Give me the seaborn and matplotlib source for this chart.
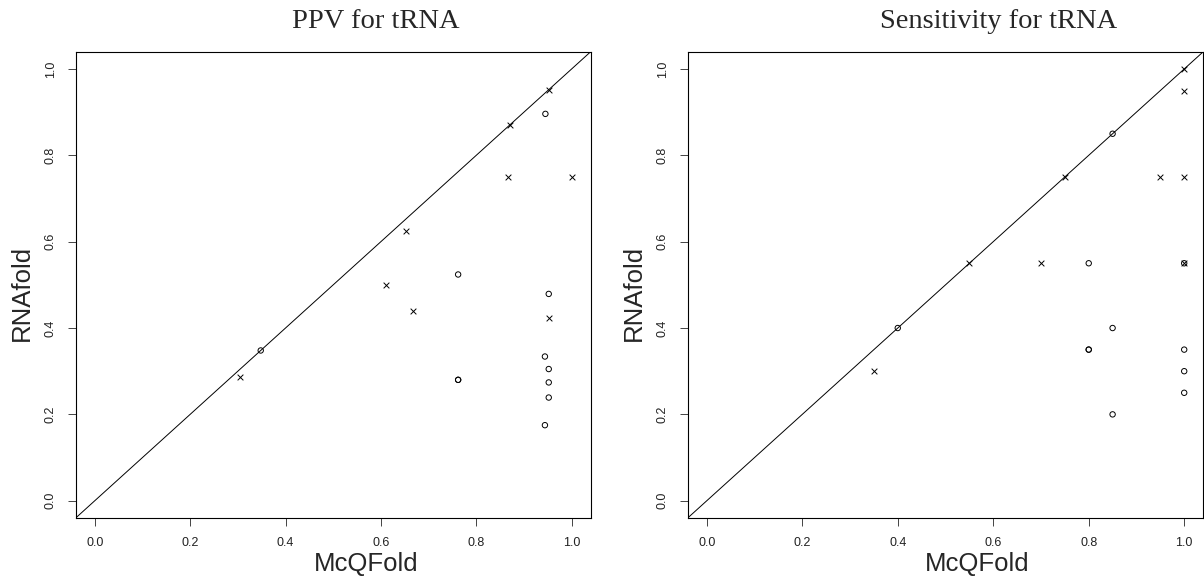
import matplotlib
matplotlib.use("Agg")
import matplotlib.pyplot as plt
import seaborn as sns
import pandas as pd

# ---- data: PPV panel ----
ppv_cross_x = [0.304, 0.610, 0.652, 0.667, 0.867, 0.870, 0.952, 1.000, 0.952]
ppv_cross_y = [0.286, 0.500, 0.625, 0.440, 0.750, 0.870, 0.952, 0.750, 0.423]
ppv_circ_x = [0.348, 0.762, 0.762, 0.762, 0.945, 0.952, 0.944, 0.952, 0.952, 0.952, 0.944]
ppv_circ_y = [0.348, 0.524, 0.280, 0.280, 0.896, 0.479, 0.334, 0.305, 0.274, 0.239, 0.175]

# ---- data: Sensitivity panel ----
sen_cross_x = [1.00, 1.00, 0.75, 0.95, 1.00, 0.55, 0.70, 1.00, 0.35]
sen_cross_y = [1.00, 0.95, 0.75, 0.75, 0.75, 0.55, 0.55, 0.55, 0.30]
sen_circ_x = [0.85, 0.40, 0.80, 1.00, 0.85, 0.80, 0.80, 1.00, 1.00, 1.00, 0.85]
sen_circ_y = [0.85, 0.40, 0.55, 0.55, 0.40, 0.35, 0.35, 0.35, 0.30, 0.25, 0.20]

titles = ["PPV for tRNA", "Sensitivity for tRNA"]
xlabel = "McQFold"
ylabel = "RNAfold"
ticks = [0.0, 0.2, 0.4, 0.6, 0.8, 1.0]
tick_labels = ["0.0", "0.2", "0.4", "0.6", "0.8", "1.0"]

sns.set_style("white")
plt.rcParams["font.family"] = ["Liberation Sans", "DejaVu Sans"]

W, H = 1204, 582
fig = plt.figure(figsize=(W / 100, H / 100), dpi=100)

panels = [
    dict(cx=ppv_cross_x, cy=ppv_cross_y, ox=ppv_circ_x, oy=ppv_circ_y,
         box=(75.7, 51.7, 590.7, 518.0), title_x=376, xlab_x=366, ylab_x=22),
    dict(cx=sen_cross_x, cy=sen_cross_y, ox=sen_circ_x, oy=sen_circ_y,
         box=(687.7, 51.7, 1203.3, 518.0), title_x=999, xlab_x=977, ylab_x=634),
]

for i, p in enumerate(panels):
    l, t, r, b = p["box"]
    ax = fig.add_axes([l / W, 1 - b / H, (r - l) / W, (b - t) / H])
    df_c = pd.DataFrame({"x": p["cx"], "y": p["cy"]})
    df_o = pd.DataFrame({"x": p["ox"], "y": p["oy"]})
    ax.axline((0, 0), (1, 1), color="black", lw=0.7, zorder=1)
    sns.scatterplot(data=df_o, x="x", y="y", ax=ax, marker="o", s=15,
                    facecolor="none", edgecolor="black", linewidth=0.7, zorder=3)
    sns.scatterplot(data=df_c, x="x", y="y", ax=ax, marker="x", s=17,
                    color="black", linewidth=0.7, zorder=3)
    ax.set_xlim(-0.04, 1.04)
    ax.set_ylim(-0.04, 1.04)
    ax.set_xticks(ticks)
    ax.set_xticklabels(tick_labels)
    ax.set_yticks(ticks)
    ax.set_yticklabels(tick_labels, rotation=90, va="center")
    ax.tick_params(axis="both", direction="out", length=6, width=0.7,
                   color="#444444", labelsize=9, labelcolor="#222222", pad=7.5,
                   left=True, bottom=True)
    ax.set_xlabel("")
    ax.set_ylabel("")
    for s in ax.spines.values():
        s.set_color("black")
        s.set_linewidth(0.8)
        s.set_visible(True)
    fig.text(p["title_x"] / W, 1 - 21 / H, titles[i], ha="center", va="center",
             family="Liberation Serif", fontsize=20.5)
    fig.text(p["xlab_x"] / W, 1 - 564 / H, xlabel, ha="center", va="center",
             fontsize=18.5)
    fig.text(p["ylab_x"] / W, 1 - 293 / H, ylabel, ha="center", va="center",
             rotation=90, fontsize=18.5)

fig.savefig("out.png", dpi=100)
